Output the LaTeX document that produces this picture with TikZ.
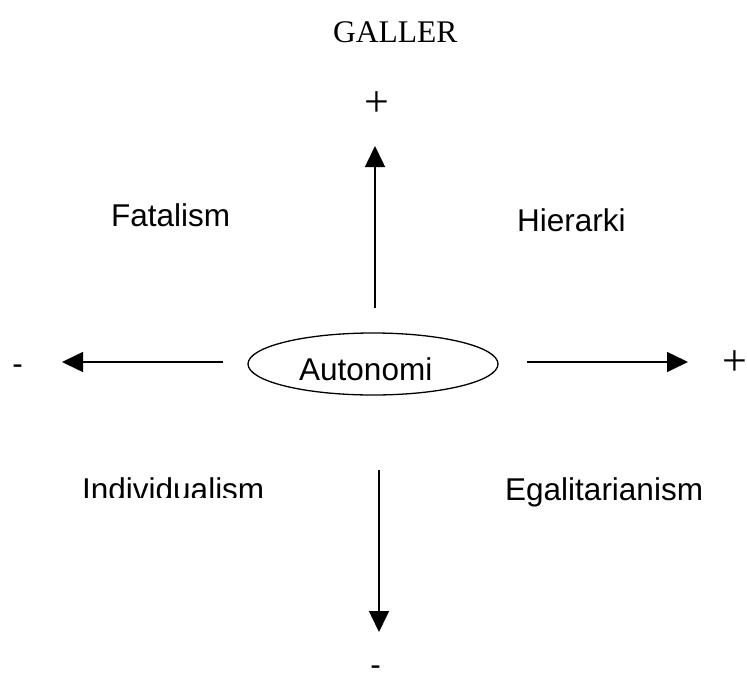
\documentclass[tikz,border=0pt]{standalone}
\usepackage{fontspec}
\setmainfont{Liberation Sans}
\newfontfamily\timesfont{Liberation Serif}
\usetikzlibrary{arrows.meta,shapes.geometric}
\tikzset{
  lbl/.style={inner sep=0pt, anchor=base west, font=\fontsize{31.5}{38}\selectfont},
  sgn/.style={inner sep=0pt, anchor=base, font=\fontsize{31.5}{38}\selectfont},
  pls/.style={inner sep=0pt, anchor=base, font=\fontsize{44}{50}\timesfont},
  axis/.style={line width=1.5pt, -{Triangle[length=21pt,width=20pt]}},
  oval/.style={draw, line width=1.3pt, ellipse, minimum width=250pt, minimum height=62pt, inner sep=0pt}
}
\begin{document}
\begin{tikzpicture}[x=1pt,y=-1pt]
\useasboundingbox (0,0) rectangle (747,675);
\node[lbl, font=\fontsize{31.5}{38}\timesfont] (galler) at (333,42) {GALLER};
\node[pls] (ptop) at (376.5,116) {+};
\node[pls] (pright) at (734.5,375) {+};
\node[sgn] (mleft) at (17.5,374) {-};
\node[sgn] (mbot) at (375.5,675) {-};
\node[lbl] (fat) at (111,226) {Fatalism};
\node[lbl] (hier) at (517,231) {Hierarki};
\node[lbl] (egal) at (505,500) {Egalitarianism};
\begin{scope}
\clip (0,0) rectangle (747,497);
\node[lbl] (indiv) at (82,500) {Individualism};
\end{scope}
\node[oval] (auto) at (373,364) {};
\node[lbl] (autotxt) at (299,380) {Autonomi};
\coordinate (upS) at (375,308);
\coordinate (upE) at (375,146);
\coordinate (leS) at (223,362);
\coordinate (leE) at (62,362);
\coordinate (riS) at (527,362);
\coordinate (riE) at (688,362);
\coordinate (doS) at (379,470);
\coordinate (doE) at (379,632);
\draw[axis] (upS) -- (upE);
\draw[axis] (leS) -- (leE);
\draw[axis] (riS) -- (riE);
\draw[axis] (doS) -- (doE);
\end{tikzpicture}
\end{document}
